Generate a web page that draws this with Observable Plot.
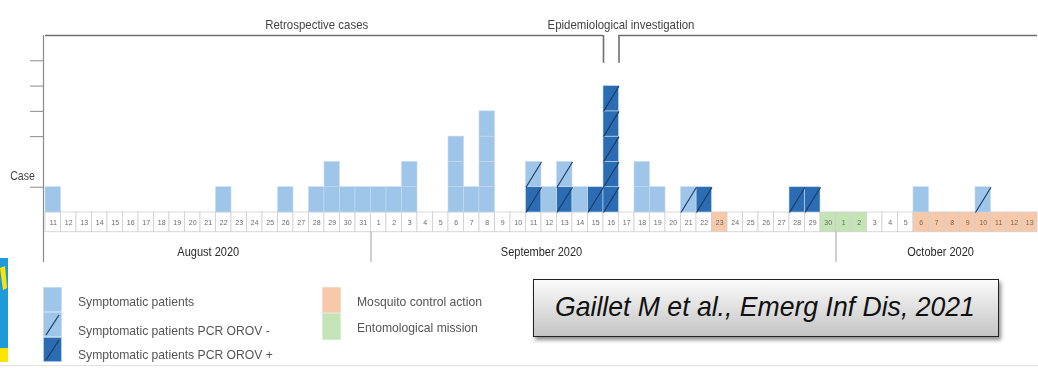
<!DOCTYPE html>
<html>
<head>
<meta charset="utf-8">
<script src="https://cdn.jsdelivr.net/npm/d3@7"></script>
<script src="https://cdn.jsdelivr.net/npm/@observablehq/plot@0.6"></script>
<style>
  html, body { margin: 0; padding: 0; background: #fff; }
  #page { position: relative; width: 1038px; height: 368px; overflow: hidden; background: #fff;
          font-family: "Liberation Sans Narrow", "Arial Narrow", "Liberation Sans", sans-serif; }
  #chart { position: absolute; left: 0; top: 0; filter: blur(0.45px); }
  #legend { position: absolute; left: 0; top: 0; width: 520px; height: 368px; filter: blur(0.45px); color: #555; font-size: 13.5px; }
  #legend .row { position: absolute; white-space: nowrap; line-height: 16px; transform: scaleX(0.9); transform-origin: left center; }
  #legend svg { position: absolute; }
  #ref { position: absolute; left: 533px; top: 279px; width: 466px; height: 58px; box-sizing: border-box;
         border: 1.5px solid #222; background: linear-gradient(#fbfbfb, #c4c4c4);
         box-shadow: 2px 3px 4px rgba(0,0,0,0.45);
         font-style: italic; font-size: 28px; color: #111; line-height: 54px; padding-left: 21px; white-space: nowrap; }
  #ref span { display: inline-block; transform: scaleX(0.95); transform-origin: left center; }
  #logo { position: absolute; left: 0; top: 258px; width: 8px; height: 104px; }
  #baseline { position: absolute; left: 0; top: 365px; width: 1038px; height: 1px; background: #e2e2e2; }
</style>
</head>
<body>
<div id="page">
  <div id="chart"></div>
  <div id="legend"></div>
  <div id="ref"><span>Gaillet M et al., Emerg Inf Dis, 2021</span></div>
  <svg id="logo" width="8" height="104">
    <rect x="0" y="0" width="8" height="90" fill="#1f9ad8"></rect>
    <rect x="0" y="90" width="8" height="14" fill="#ffe400"></rect>
    <path d="M0,10 L5,8 L7,30 L3,32 Z" fill="#ffe400"></path>
  </svg>
  <div id="baseline"></div>
</div>
<script>
// Daily symptomatic cases, [day, number of patients]
const symptomatic = [
  ["2020-08-11", 1], ["2020-08-22", 1], ["2020-08-26", 1], ["2020-08-28", 1],
  ["2020-08-29", 2], ["2020-08-30", 1], ["2020-08-31", 1], ["2020-09-01", 1],
  ["2020-09-02", 1], ["2020-09-03", 2], ["2020-09-06", 3], ["2020-09-07", 1],
  ["2020-09-08", 4], ["2020-09-12", 1], ["2020-09-14", 1], ["2020-09-18", 2],
  ["2020-09-19", 1], ["2020-10-06", 1]
];
// Symptomatic patients tested PCR OROV negative
const pcrNegative = [
  ["2020-09-11", 1], ["2020-09-13", 1], ["2020-09-21", 1], ["2020-10-10", 1]
];
// Symptomatic patients tested PCR OROV positive
const pcrPositive = [
  ["2020-09-11", 1], ["2020-09-13", 1], ["2020-09-15", 1], ["2020-09-16", 5],
  ["2020-09-22", 1], ["2020-09-28", 1], ["2020-09-29", 1]
];
// Field actions
const mosquitoControl = ["2020-09-23", "2020-10-06", "2020-10-07", "2020-10-08", "2020-10-09",
  "2020-10-10", "2020-10-11", "2020-10-12", "2020-10-13"];
const entomological = ["2020-09-30", "2020-10-01", "2020-10-02"];

// Calendar
const firstDay = "2020-08-11";
const lastDay = "2020-10-13";
const monthStarts = ["2020-09-01", "2020-10-01"];
const monthLabels = ["August 2020", "September 2020", "October 2020"];
const monthLabelAt = ["2020-08-21T12:00Z", "2020-09-12T00:00Z", "2020-10-07T18:00Z"];

// Study periods
const periodLabels = ["Retrospective cases", "Epidemiological investigation"];
const periodStart = ["2020-08-11", "2020-09-17"];
const periodEnd = ["2020-09-16", "2020-10-14"];
const periodLabelAt = ["2020-08-28T12:00Z", "2020-09-17T03:00Z"];

// y axis ticks (cases)
const caseTicks = [1, 3, 4, 5, 6];

const LIGHT = "#9fc5e9";
const DARK = "#2b6cb3";
const SLASH = "#183a66";
const ORANGE = "#f7c9a9";
const GREEN = "#c4e4b6";

const day = s => new Date(s.length > 10 ? s : s + "T00:00Z");
const next = d => d3.utcDay.offset(d, 1);

// One rectangle per patient, stacked per day: PCR+ at the bottom, then PCR-, then untested
const stackHeight = new Map();
const units = [];
for (const [rows, kind] of [[pcrPositive, "pos"], [pcrNegative, "neg"], [symptomatic, "sym"]]) {
  for (const [date, count] of rows) {
    for (let k = 0; k < count; k++) {
      const h = stackHeight.get(date) || 0;
      units.push({x1: day(date), x2: next(day(date)), y1: h, y2: h + 1, kind});
      stackHeight.set(date, h + 1);
    }
  }
}

const days = d3.utcDay.range(day(firstDay), next(day(lastDay)));
const orangeSet = new Set(mosquitoControl);
const greenSet = new Set(entomological);
const iso = d => d.toISOString().slice(0, 10);
const cellFill = d => orangeSet.has(iso(d)) ? ORANGE : greenSet.has(iso(d)) ? GREEN : "#fff";

const font = "'Liberation Sans Narrow', 'Arial Narrow', 'Liberation Sans', sans-serif";
const start = day(firstDay);
const end = next(day(lastDay));

const chart = Plot.plot({
  width: 1038,
  height: 270,
  marginLeft: 45,
  marginRight: 1,
  marginTop: 35,
  marginBottom: 58,
  x: {type: "utc", domain: [start, end], axis: null},
  y: {domain: [0, 7], axis: null},
  style: {fontFamily: font, background: "transparent", overflow: "visible"},
  marks: [
    // day cells under the bars
    Plot.rect(days, {x1: d => d, x2: next, y1: 0, y2: -0.78, fill: cellFill, stroke: "#cfcfcf", strokeWidth: 0.8}),
    Plot.text(days, {x: d => d3.utcHour.offset(d, 12), y: -0.39, text: d => String(d.getUTCDate()), fontSize: 8, fill: "#6a6a6a"}),
    // month separators and labels
    Plot.ruleX(monthStarts.map(day), {y1: -0.78, y2: -1.98, stroke: "#a0a0a0", strokeWidth: 1}),
    Plot.text(monthLabels, {x: (d, i) => day(monthLabelAt[i]), y: -1.58, text: d => d, fontSize: 12.5, fill: "#2a2a2a"}),
    // vertical axis
    Plot.ruleX([start], {y1: -1.98, y2: 7, dx: -2, stroke: "#8a8a8a", strokeWidth: 1.2}),
    Plot.axisY(caseTicks, {tickSize: 13, tickFormat: () => "", label: null, dx: -2, stroke: "#8a8a8a"}),
    Plot.text(["Case"], {x: start, y: 1.42, dx: -23, text: d => d, fontSize: 12, fill: "#444"}),
    // patients
    Plot.rect(units, {x1: "x1", x2: "x2", y1: "y1", y2: "y2",
      fill: d => d.kind === "pos" ? DARK : LIGHT, stroke: "#c4dcf2", strokeWidth: 0.6}),
    Plot.link(units.filter(d => d.kind !== "sym"), {x1: "x1", y1: "y1", x2: "x2", y2: "y2", stroke: SLASH, strokeWidth: 1.1}),
    // study period brackets
    Plot.ruleY([7], {x1: day(periodStart[0]), x2: day(periodEnd[0]), stroke: "#6f6f6f", strokeWidth: 1.6}),
    Plot.ruleX([day(periodEnd[0])], {y1: 5.9, y2: 7, stroke: "#6f6f6f", strokeWidth: 1.6}),
    Plot.ruleX([day(periodStart[1])], {y1: 5.9, y2: 7, stroke: "#6f6f6f", strokeWidth: 1.6}),
    Plot.ruleY([7], {x1: day(periodStart[1]), x2: day(periodEnd[1]), stroke: "#6f6f6f", strokeWidth: 1.6}),
    Plot.text(periodLabels, {x: (d, i) => day(periodLabelAt[i]), y: 7, dy: -11, text: d => d, fontSize: 13, fill: "#444"})
  ]
});
document.getElementById("chart").appendChild(chart);

// Narrow letterforms for the chart's text
for (const t of chart.querySelectorAll("text")) {
  const w = t.getComputedTextLength();
  if (w > 0) {
    t.setAttribute("textLength", (w * 0.88).toFixed(1));
    t.setAttribute("lengthAdjust", "spacingAndGlyphs");
  }
}

// Legend
const legend = document.getElementById("legend");
const legendItems = ["Symptomatic patients", "Symptomatic patients PCR OROV -", "Symptomatic patients PCR OROV +"];
const legendActions = ["Mosquito control action", "Entomological mission"];
const ns = "http://www.w3.org/2000/svg";
function swatch(left, top, cells) {
  const svg = document.createElementNS(ns, "svg");
  svg.setAttribute("width", 19);
  svg.setAttribute("height", cells.reduce((s, c) => s + c.h, 0));
  svg.style.left = left + "px";
  svg.style.top = top + "px";
  let y = 0;
  for (const c of cells) {
    const r = document.createElementNS(ns, "rect");
    r.setAttribute("x", 0.5); r.setAttribute("y", y + 0.3);
    r.setAttribute("width", 18); r.setAttribute("height", c.h - 0.6);
    r.setAttribute("fill", c.fill); r.setAttribute("stroke", c.stroke || "#c4dcf2"); r.setAttribute("stroke-width", 0.6);
    svg.appendChild(r);
    if (c.slash) {
      const l = document.createElementNS(ns, "line");
      l.setAttribute("x1", 3); l.setAttribute("y1", y + c.h - 2);
      l.setAttribute("x2", 16); l.setAttribute("y2", y + 3);
      l.setAttribute("stroke", SLASH); l.setAttribute("stroke-width", 1.2);
      svg.appendChild(l);
    }
    y += c.h;
  }
  legend.appendChild(svg);
}
swatch(43, 287, [{h: 25, fill: LIGHT}, {h: 25, fill: LIGHT, slash: true}, {h: 25, fill: DARK, slash: true}]);
swatch(322, 287, [{h: 26, fill: ORANGE, stroke: "#f2d8c6"}, {h: 27, fill: GREEN, stroke: "#d6ecd0"}]);
const rowTops = [294, 323, 347];
legendItems.forEach((t, i) => {
  const d = document.createElement("div");
  d.className = "row";
  d.textContent = t;
  d.style.left = "78px";
  d.style.top = rowTops[i] + "px";
  legend.appendChild(d);
});
legendActions.forEach((t, i) => {
  const d = document.createElement("div");
  d.className = "row";
  d.textContent = t;
  d.style.left = "357px";
  d.style.top = (294 + i * 26) + "px";
  legend.appendChild(d);
});
</script>
</body>
</html>
